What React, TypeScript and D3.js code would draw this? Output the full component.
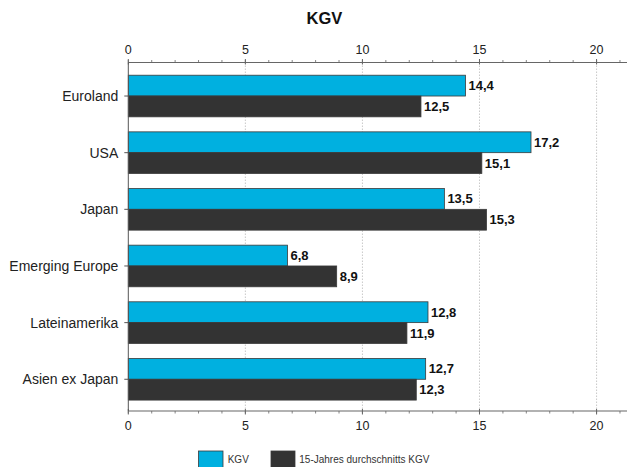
import React from "react";
import * as d3 from "d3";

const categories = ["Euroland", "USA", "Japan", "Emerging Europe", "Lateinamerika", "Asien ex Japan"];
const seriesNames = ["KGV", "15-Jahres durchschnitts KGV"];
const kgv = [14.4, 17.2, 13.5, 6.8, 12.8, 12.7];
const avg15 = [12.5, 15.1, 15.3, 8.9, 11.9, 12.3];
const majorTicks = [0, 5, 10, 15, 20];
const minorTicks = d3.range(0, 22, 1);
const colors = ["#00B0E0", "#333333"];

const W = 627, H = 467;
const plotTop = 62.5, plotBottom = 411, plotLeft = 128.3, plotRight = 627;

export default function App() {
  const x = d3.scaleLinear().domain([0, 21.3]).range([plotLeft, plotRight]);
  const y = d3.scaleBand<string>().domain(categories).range([67.7, 407.6]).paddingInner(0.265).paddingOuter(0.1325);
  const sub = d3.scaleBand<string>().domain(seriesNames).range([0, y.bandwidth()]);
  const series = [kgv, avg15];
  const fmt = (v: number) => v.toFixed(1).replace(".", ",");
  const font = "Liberation Sans, Arial, sans-serif";

  return (
    <svg width={W} height={H} style={{ position: "absolute", left: 0, top: 0, fontFamily: font }}>
      <rect x={0} y={0} width={W} height={H} fill="#fff" />
      <text x={324.5} y={23.5} textAnchor="middle" fontSize={16.5} fontWeight="bold" fill="#111">KGV</text>
      {/* grid */}
      {majorTicks.filter(t => t > 0).map(t => (
        <line key={"g" + t} x1={x(t)} x2={x(t)} y1={plotTop} y2={plotBottom} stroke="#bbb" strokeDasharray="1.5,1.5" strokeWidth={0.8} />
      ))}
      {/* bars */}
      {categories.map((c, i) => (
        <g key={c}>
          {series.map((s, j) => (
            <rect key={j} x={x(0)} y={(y(c) as number) + (sub(seriesNames[j]) as number)} width={x(s[i]) - x(0)} height={sub.bandwidth()} fill={colors[j]} stroke="#3a3a3a" strokeWidth={0.8} />
          ))}
          {series.map((s, j) => (
            <text key={"t" + j} x={x(s[i]) + 3} y={(y(c) as number) + (sub(seriesNames[j]) as number) + sub.bandwidth() / 2 + 4.5} fontSize={13} fontWeight="bold" fill="#111">{fmt(s[i])}</text>
          ))}
        </g>
      ))}
      {/* top axis */}
      <line x1={plotLeft} x2={plotRight} y1={plotTop} y2={plotTop} stroke="#666" strokeWidth={1.2} />
      {minorTicks.map(t => (
        <line key={"tm" + t} x1={x(t)} x2={x(t)} y1={plotTop - 2.5} y2={plotTop} stroke="#666" strokeWidth={0.8} />
      ))}
      {majorTicks.map(t => (
        <g key={"tt" + t}>
          <line x1={x(t)} x2={x(t)} y1={plotTop - 3.5} y2={plotTop + 2} stroke="#666" strokeWidth={1} />
          <text x={x(t)} y={54} textAnchor="middle" fontSize={12.5} fill="#222">{t}</text>
        </g>
      ))}
      {/* bottom axis */}
      <line x1={plotLeft} x2={plotRight} y1={plotBottom} y2={plotBottom} stroke="#666" strokeWidth={1.2} />
      {minorTicks.map(t => (
        <line key={"bm" + t} x1={x(t)} x2={x(t)} y1={plotBottom} y2={plotBottom + 2.5} stroke="#666" strokeWidth={0.8} />
      ))}
      {majorTicks.map(t => (
        <g key={"bt" + t}>
          <line x1={x(t)} x2={x(t)} y1={plotBottom - 2} y2={plotBottom + 3.5} stroke="#666" strokeWidth={1} />
          <text x={x(t)} y={430} textAnchor="middle" fontSize={12.5} fill="#222">{t}</text>
        </g>
      ))}
      {/* left axis */}
      <line x1={plotLeft} x2={plotLeft} y1={plotTop} y2={plotBottom} stroke="#555" strokeWidth={1} />
      {categories.map(c => {
        const cy = (y(c) as number) + y.bandwidth() / 2;
        return (
          <g key={"l" + c}>
            <line x1={plotLeft - 4} x2={plotLeft} y1={cy} y2={cy} stroke="#555" strokeWidth={1} />
            <text x={118.3} y={cy + 5} textAnchor="end" fontSize={14} fill="#222">{c}</text>
          </g>
        );
      })}
      {/* legend */}
      <rect x={198.5} y={451} width={24.5} height={18} fill={colors[0]} stroke="#3a3a3a" strokeWidth={0.8} />
      <text x={227.7} y={462.7} fontSize={10} fill="#333">{seriesNames[0]}</text>
      <rect x={271} y={451} width={24} height={18} fill={colors[1]} stroke="#3a3a3a" strokeWidth={0.8} />
      <text x={299.3} y={462.7} fontSize={10} fill="#333">{seriesNames[1]}</text>
    </svg>
  );
}
